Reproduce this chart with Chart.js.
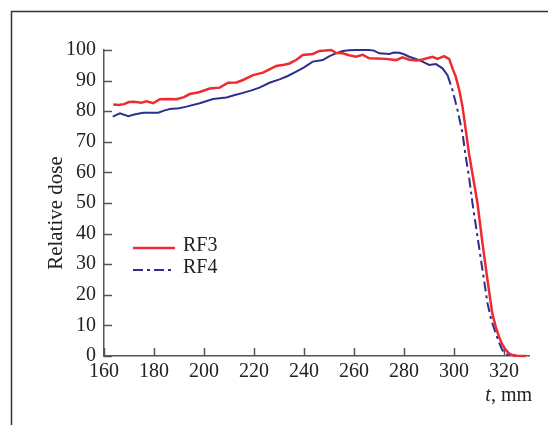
<!DOCTYPE html>
<html lang="en">
    <head>
        <meta charset="utf-8" />
        <title>Relative dose</title>
        <style>
            html, body { margin: 0; padding: 0; background: #fff; }
            #doseChart { display: block; }
        </style>
    </head>
    <body>
        <div style="width:548px;height:425px;position:relative">
            <canvas id="doseChart" width="548" height="425"></canvas>
        </div>
        <script src="https://cdn.jsdelivr.net/npm/chart.js@4/dist/chart.umd.min.js"></script>
        <script>
            // values: t in mm, relative dose in %
            var rf3T = [163.7, 166, 168, 170, 172, 175, 177, 179.7, 182.3, 186, 189, 192, 194.3, 198, 202.3, 206.3, 209.6, 213, 215.6, 219.6, 223.6, 226.2, 228.9, 232, 234.2, 237, 239.5, 243.5, 246.2, 248.5, 250.9, 252.9, 255.5, 258, 260.8, 263.5, 266.1, 269, 272.8, 276.8, 279.4, 282.1, 285, 287.4, 291.4, 293.4, 296.1, 298.1, 299.4, 300.7, 302.1, 303.4, 304.7, 306, 307.4, 309.4, 311.4, 313.4, 315.3, 316.7, 318, 319.3, 320.7, 322, 323.3, 325, 328.7];
            var rf3Dose = [82.2, 82.0, 82.3, 83.0, 83.1, 82.8, 83.2, 82.6, 83.9, 84.0, 83.9, 84.6, 85.6, 86.2, 87.4, 87.7, 89.3, 89.4, 90.2, 91.8, 92.6, 93.7, 94.8, 95.2, 95.6, 96.8, 98.4, 98.7, 99.7, 99.8, 100, 99.0, 98.9, 98.3, 97.8, 98.4, 97.3, 97.2, 97.1, 96.7, 97.6, 96.8, 96.6, 96.9, 97.8, 97.1, 98.0, 97.0, 94.0, 91.3, 86.9, 81.5, 73.9, 66.2, 59.5, 49.9, 36.8, 24.8, 14.0, 9.5, 6.3, 3.8, 2.0, 0.9, 0.3, 0.1, 0];
            var rf4T = [163.5, 166.4, 169.7, 172.5, 175.7, 181.7, 184, 186.3, 190, 193, 198.3, 203.6, 209, 212, 215.6, 219, 222.2, 226.2, 230.2, 233.5, 236.9, 240, 243.5, 247.5, 250.2, 253, 255.5, 258, 260.8, 263.5, 266.1, 268, 270.1, 274.1, 276, 278.1, 280, 282.1, 285, 287.4, 290.1, 292.8, 295.4, 297.4, 299.4, 301.4, 303.4, 304.7, 306, 307.4, 309.4, 311.4, 313.4, 315, 316.7, 318, 319.3, 320.5, 322, 325, 328];
            var rf4Dose = [78.2, 79.3, 78.4, 79.0, 79.5, 79.5, 80.2, 80.7, 81.0, 81.5, 82.6, 84.0, 84.5, 85.2, 86.0, 86.8, 87.7, 89.3, 90.4, 91.5, 92.9, 94.3, 96.2, 96.7, 98.0, 99.0, 99.7, 99.9, 100, 100, 100, 99.8, 98.9, 98.7, 99.2, 99.1, 98.6, 97.8, 97.0, 96.2, 95.1, 95.4, 94.0, 91.8, 86.9, 80.4, 72.8, 65.1, 58.6, 49.9, 39.0, 28.1, 17.2, 11.5, 7.4, 4.5, 2.0, 0.8, 0.3, 0.1, 0];
            var seriesNames = ["RF3", "RF4"];
            var xTicks = [160, 180, 200, 220, 240, 260, 280, 300, 320];
            var yTicks = [0, 10, 20, 30, 40, 50, 60, 70, 80, 90, 100];

            var serif = "'Liberation Serif', 'DejaVu Serif', serif";
            var axisColor = "#555";
            var red = "#ee2b30";
            var blue = "#2c2f8e";
            var dashDot = [10, 4, 3, 4];

            function pairs(xs, ys) {
                return xs.map(function (x, i) { return { x: x, y: ys[i] }; });
            }

            // frame, inward ticks, legend and the axis titles
            var decor = {
                id: "decor",
                beforeDatasetsDraw: function (chart) {
                    var ctx = chart.ctx;
                    var xs = chart.scales.x, ys = chart.scales.y;
                    ctx.save();
                    ctx.strokeStyle = "#333";
                    ctx.lineWidth = 1.5;
                    ctx.beginPath();
                    ctx.moveTo(11.5, 425);
                    ctx.lineTo(11.5, 11.5);
                    ctx.lineTo(548, 11.5);
                    ctx.stroke();

                    ctx.strokeStyle = axisColor;
                    ctx.lineWidth = 1.5;
                    ctx.beginPath();
                    xTicks.forEach(function (v) {
                        var px = Math.round(xs.getPixelForValue(v)) + 0.5;
                        ctx.moveTo(px, ys.bottom);
                        ctx.lineTo(px, ys.bottom - 8);
                    });
                    yTicks.forEach(function (v) {
                        var py = Math.round(ys.getPixelForValue(v)) + 0.5;
                        ctx.moveTo(xs.left, py);
                        ctx.lineTo(xs.left + 8, py);
                    });
                    ctx.stroke();
                    ctx.restore();
                },
                afterDraw: function (chart) {
                    var ctx = chart.ctx;
                    ctx.save();
                    ctx.textBaseline = "middle";
                    ctx.fillStyle = "#222";

                    // legend
                    var rows = [248, 270];
                    chart.data.datasets.forEach(function (ds, i) {
                        ctx.strokeStyle = ds.borderColor;
                        ctx.lineWidth = ds.borderWidth;
                        ctx.setLineDash(i === 1 ? dashDot : []);
                        ctx.beginPath();
                        ctx.moveTo(133, rows[i]);
                        ctx.lineTo(i === 1 ? 172 : 175, rows[i]);
                        ctx.stroke();
                        ctx.setLineDash([]);
                        ctx.font = "20px " + serif;
                        ctx.textAlign = "left";
                        ctx.fillText(ds.label, 183, rows[i] - 2);
                    });

                    // y axis title
                    ctx.save();
                    ctx.translate(56, 213);
                    ctx.rotate(-Math.PI / 2);
                    ctx.textAlign = "center";
                    ctx.font = "21px " + serif;
                    ctx.fillText("Relative dose", 0, 0);
                    ctx.restore();

                    // x axis label: italic t, then ", mm"
                    var right = 532, y = 396;
                    ctx.textAlign = "right";
                    ctx.font = "20px " + serif;
                    var tail = ", mm";
                    ctx.fillText(tail, right, y);
                    var w = ctx.measureText(tail).width;
                    ctx.font = "italic 20px " + serif;
                    ctx.fillText("t", right - w, y);
                    ctx.restore();
                }
            };

            new Chart(document.getElementById("doseChart").getContext("2d"), {
                type: "line",
                data: {
                    datasets: [
                        {
                            label: seriesNames[0],
                            data: pairs(rf3T, rf3Dose),
                            borderColor: red,
                            borderWidth: 2.5,
                            pointRadius: 0,
                            tension: 0,
                            clip: false
                        },
                        {
                            label: seriesNames[1],
                            data: pairs(rf4T, rf4Dose),
                            borderColor: blue,
                            borderWidth: 2,
                            pointRadius: 0,
                            tension: 0,
                            clip: false,
                            segment: {
                                borderDash: function (c) { return c.p0.parsed.x >= 296 ? dashDot : undefined; }
                            }
                        }
                    ]
                },
                options: {
                    responsive: false,
                    animation: false,
                    layout: { padding: { left: 0, right: 19, top: 50, bottom: 0 } },
                    plugins: {
                        legend: { display: false },
                        tooltip: { enabled: false }
                    },
                    scales: {
                        x: {
                            type: "linear",
                            min: 160,
                            max: 330,
                            afterBuildTicks: function (s) { s.ticks = xTicks.map(function (v) { return { value: v }; }); },
                            afterFit: function (s) { s.height = 69; },
                            grid: { display: false, drawTicks: false },
                            border: { display: true, color: axisColor, width: 1.5 },
                            ticks: { color: "#222", padding: 4, maxRotation: 0, autoSkip: false, font: { family: serif, size: 20 } }
                        },
                        y: {
                            min: 0,
                            max: 100,
                            afterBuildTicks: function (s) { s.ticks = yTicks.map(function (v) { return { value: v }; }); },
                            afterFit: function (s) { s.width = 104; },
                            grid: { display: false, drawTicks: false },
                            border: { display: true, color: axisColor, width: 1.5 },
                            ticks: { color: "#222", padding: 8, autoSkip: false, font: { family: serif, size: 20 } }
                        }
                    }
                },
                plugins: [decor]
            });
        </script>
    </body>
</html>
